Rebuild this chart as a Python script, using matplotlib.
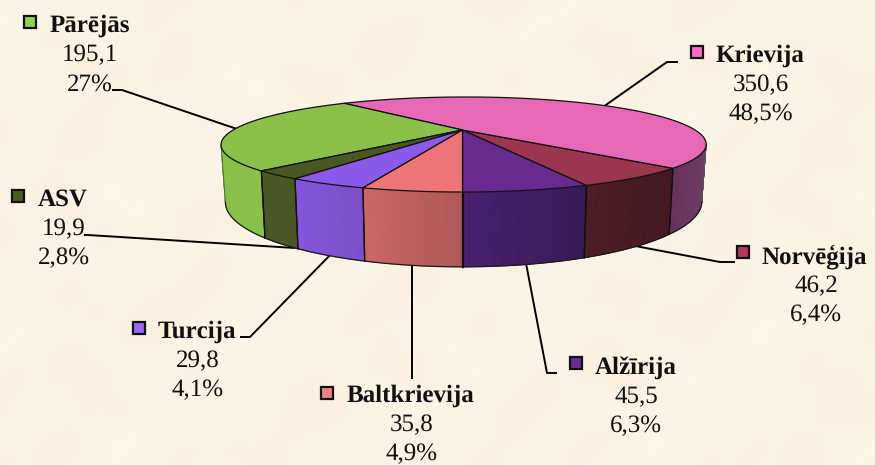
import numpy as np
import matplotlib
matplotlib.use("Agg")
import matplotlib.pyplot as plt
from matplotlib.patches import Polygon, Rectangle
from matplotlib.collections import PolyCollection
from matplotlib.colors import to_rgb

categories = ["Alžīrija", "Norvēģija", "Krievija", "Pārējās", "ASV", "Turcija", "Baltkrievija"]
values = [45.5, 46.2, 350.6, 195.1, 19.9, 29.8, 35.8]
percent_labels = ["6,3%", "6,4%", "48,5%", "27%", "2,8%", "4,1%", "4,9%"]
value_labels = ["45,5", "46,2", "350,6", "195,1", "19,9", "29,8", "35,8"]

top_colors = ["#692A90", "#9C3550", "#E868B8", "#88C04A", "#4A5722", "#8C5AEA", "#EE7575"]
side_left = ["#4A2070", "#4E1D26", "#64305A", "#88C04A", "#4A5722", "#8455DC", "#CB6666"]
side_right = ["#351A55", "#421820", "#6E3A66", "#88C04A", "#4A5722", "#7A50C8", "#AE5858"]
key_colors = ["#6B2A98", "#B23A5C", "#FF6CC8", "#92D050", "#4D5C26", "#9966FF", "#FF8080"]
BG = "#FBF3E4"
FONT = 18.2

# label layout: key centre, name left, value centre, first baseline
layout = {
    "Krievija": (697, 52, 716, 761, 62),
    "Norvēģija": (743, 252, 762, 816, 263),
    "Alžīrija": (576, 363, 595, 636, 373.5),
    "Baltkrievija": (327, 393, 347, 412, 402),
    "Turcija": (139, 328, 158, 198, 338),
    "ASV": (18, 196, 38, 64, 206),
    "Pārējās": (30, 22, 50, 90, 32),
}
leaders = {
    "Krievija": [(678, 62), (667, 62), (603, 107)],
    "Norvēģija": [(735, 262), (720, 262), (630, 245)],
    "Alžīrija": [(557, 373), (547, 373), (525, 258)],
    "Baltkrievija": [(412, 379), (412, 258)],
    "Turcija": [(240, 337), (250, 337), (335, 250)],
    "ASV": [(84, 235), (88, 235), (295, 248)],
    "Pārējās": [(112, 90), (122, 90), (240, 130)],
}

CX, CY, A, B, K, H, S = 462.5, 130, 231, 43.1, 0.305, 52, 0.982

def top(theta):
    u, v = np.sin(theta), np.cos(theta)
    d = 1 - K * v
    return CX + A * u / d + 1.6 * (1 - v), CY + B * v / d

def bottom(theta):
    x, y = top(theta)
    d = 1 - K * np.cos(theta)
    return CX + S * (x - CX), y + H / d

plt.rcParams["font.family"] = ["Liberation Serif", "DejaVu Serif"]
plt.rcParams["text.hinting"] = "none"
plt.rcParams["text.hinting_factor"] = 1

fig = plt.figure(figsize=(8.75, 4.65), dpi=100, facecolor=BG)
ax = fig.add_axes([0, 0, 1, 1])

# faint parchment mottling of the page background
gy, gx = np.mgrid[0:465, 0:875]
mottle = (np.sin(gx / 17.0 + 1.3 * np.sin(gy / 23.0)) + np.sin(gy / 13.0 + 1.7 * np.sin(gx / 29.0))
          + np.sin((gx + gy) / 41.0) + np.sin(gx / 7.0 + gy / 11.0) * 0.5)
bg_img = np.array(to_rgb(BG))[None, None, :] + mottle[:, :, None] * np.array([0.0015, 0.003, 0.005])[None, None, :]
ax.imshow(np.clip(bg_img, 0, 1), extent=(0, 875, 465, 0), zorder=0, interpolation="bilinear", aspect="auto")
ax.set_xlim(0, 875)
ax.set_ylim(465, 0)
ax.axis("off")

for name in categories:
    xs, ys = zip(*leaders[name])
    ax.plot(xs, ys, color="black", lw=1.4, zorder=1, solid_capstyle="butt")

edges = np.concatenate([[0], np.cumsum(values)]) / np.sum(values) * 2 * np.pi
limit = np.arccos(K)

# walls of the front half
for i in range(len(values)):
    a0, a1 = edges[i], edges[i + 1]
    spans = []
    if a0 < limit:
        spans.append((a0, min(a1, limit)))
    if a1 > 2 * np.pi - limit:
        spans.append((max(a0, 2 * np.pi - limit), a1))
    for s0, s1 in spans:
        th = np.linspace(s0, s1, max(int((s1 - s0) * 80), 3))
        xt, yt = top(th)
        xb, yb = bottom(th)
        quads, cols = [], []
        c0, c1 = np.array(to_rgb(side_left[i])), np.array(to_rgb(side_right[i]))
        xmin, xmax = min(xt.min(), xb.min()), max(xt.max(), xb.max())
        for j in range(len(th) - 1):
            quads.append([(xt[j], yt[j]), (xt[j + 1], yt[j + 1]), (xb[j + 1], yb[j + 1]), (xb[j], yb[j])])
            f = ((xt[j] + xt[j + 1]) / 2 - xmin) / max(xmax - xmin, 1)
            cols.append(c0 + (c1 - c0) * f)
        ax.add_collection(PolyCollection(quads, facecolors=cols, edgecolors=cols, linewidths=0.6, zorder=2))
        ax.plot(xb, yb, color="#1a1a1a", lw=0.9, zorder=3)
        for t in (s0, s1):
            if abs(t - limit) > 1e-6 and abs(t - (2 * np.pi - limit)) > 1e-6:
                xe0, ye0 = top(t)
                xe1, ye1 = bottom(t)
                ax.plot([xe0, xe1], [ye0, ye1], color="#111111", lw=0.9, zorder=3)

for t in (limit, 2 * np.pi - limit):
    xe0, ye0 = top(t)
    xe1, ye1 = bottom(t)
    ax.plot([xe0, xe1], [ye0, ye1], color="#555555", lw=0.6, zorder=3)

# top faces
for i in range(len(values)):
    th = np.linspace(edges[i], edges[i + 1], 200)
    xt, yt = top(th)
    pts = np.column_stack([np.r_[CX, xt], np.r_[CY, yt]])
    ax.add_patch(Polygon(pts, closed=True, facecolor=top_colors[i], edgecolor="#111111", lw=0.9, zorder=4, joinstyle="round"))

# labels
for i, name in enumerate(categories):
    kx, ky, nx, vx, by = layout[name]
    ax.add_patch(Rectangle((kx - 6.2, ky - 6.2), 12.4, 12.4, facecolor=key_colors[i], edgecolor="#111111", lw=1.6, zorder=5))
    ax.text(nx, by, name, fontsize=FONT, fontweight="bold", ha="left", va="baseline", color="#111111", zorder=6)
    ax.text(vx, by + 29.5, value_labels[i], fontsize=FONT, ha="center", va="baseline", color="#111111", zorder=6)
    ax.text(vx, by + 58.5, percent_labels[i], fontsize=FONT, ha="center", va="baseline", color="#111111", zorder=6)

fig.savefig("out.png", dpi=100, facecolor=BG)
